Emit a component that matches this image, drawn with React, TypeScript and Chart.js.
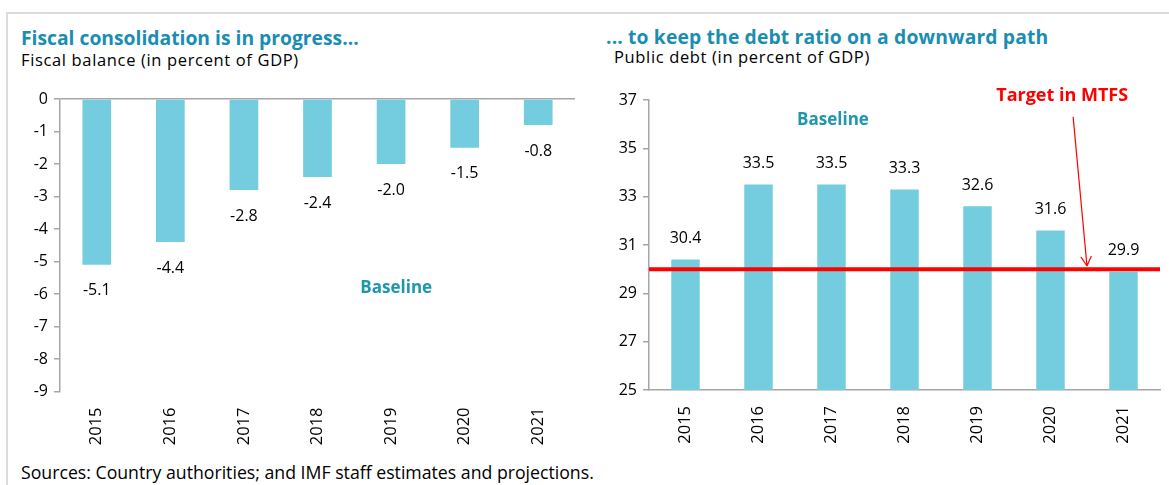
import React, { useEffect, useRef } from "react";
import { Chart, registerables } from "chart.js";

Chart.register(...registerables);

// ---------- data ----------
const years = ["2015", "2016", "2017", "2018", "2019", "2020", "2021"];
const fiscalBalance = [-5.1, -4.4, -2.8, -2.4, -2.0, -1.5, -0.8];
const publicDebt = [30.4, 33.5, 33.5, 33.3, 32.6, 31.6, 29.9];
const fiscalAxis = { min: -9, max: 0, step: 1 };
const debtAxis = { min: 25, max: 37, step: 2 };
const mtfsTarget = 30;
const arrowStart = { x: 5.31, y: 36.3 };
const arrowEnd = { x: 5.5, y: 30.13 };
const targetLabelPos = { x: 5.16, y: 37.17 };
const leftBaselinePos = { x: 4.07, y: -5.82 };
const rightBaselinePos = { x: 2.02, y: 36.17 };

const FONT = "'Open Sans', 'Noto Sans', sans-serif";
const BAR = "#73CDDE";
const TEAL_TITLE = "#1A8DB3";
const TEAL_LABEL = "#1E97AD";
const AXIS_GRAY = "#A6A6A6";

const annotations = {
  id: "annotations",
  afterDatasetsDraw(chart: any, _args: any, opts: any) {
    const ctx = chart.ctx;
    const xs = chart.scales.x;
    const ys = chart.scales.y;
    const meta = chart.getDatasetMeta(0);
    const data = chart.data.datasets[0].data as number[];
    ctx.save();
    if (opts.target !== undefined) {
      const y = ys.getPixelForValue(opts.target);
      ctx.strokeStyle = "#FF0000";
      ctx.lineWidth = 4;
      ctx.beginPath();
      ctx.moveTo(chart.chartArea.left, y);
      ctx.lineTo(chart.chartArea.right, y);
      ctx.stroke();
    }
    ctx.font = `16px ${FONT}`;
    ctx.fillStyle = "#000";
    ctx.textAlign = "center";
    ctx.textBaseline = "middle";
    meta.data.forEach((bar: any, i: number) => {
      const v = data[i];
      const y = v < 0 ? bar.y + opts.offset : bar.y - opts.offset;
      ctx.fillText(v.toFixed(1), bar.x, y);
    });
    if (opts.baseline) {
      ctx.font = `bold 17px ${FONT}`;
      ctx.fillStyle = TEAL_LABEL;
      ctx.fillText(
        "Baseline",
        xs.getPixelForValue(opts.baseline.x),
        ys.getPixelForValue(opts.baseline.y)
      );
    }
    if (opts.arrow) {
      const x1 = xs.getPixelForValue(opts.arrow.from.x);
      const y1 = ys.getPixelForValue(opts.arrow.from.y);
      const x2 = xs.getPixelForValue(opts.arrow.to.x);
      const y2 = ys.getPixelForValue(opts.arrow.to.y);
      ctx.strokeStyle = "#FF0000";
      ctx.lineWidth = 1.2;
      ctx.beginPath();
      ctx.moveTo(x1, y1);
      ctx.lineTo(x2, y2);
      const ang = Math.atan2(y2 - y1, x2 - x1);
      const L = 11;
      ctx.moveTo(x2, y2);
      ctx.lineTo(x2 - L * Math.cos(ang - 0.5), y2 - L * Math.sin(ang - 0.5));
      ctx.moveTo(x2, y2);
      ctx.lineTo(x2 - L * Math.cos(ang + 0.5), y2 - L * Math.sin(ang + 0.5));
      ctx.stroke();
      ctx.font = `bold 18px ${FONT}`;
      ctx.fillStyle = "#FF0000";
      ctx.fillText(
        "Target in MTFS",
        xs.getPixelForValue(opts.label.x),
        ys.getPixelForValue(opts.label.y)
      );
    }
    ctx.restore();
  },
};

function makeConfig(
  values: number[],
  axis: { min: number; max: number; step: number },
  yWidth: number,
  xHeight: number,
  padding: any,
  xBorder: boolean,
  zeroLine: boolean,
  annot: any
): any {
  return {
    type: "bar",
    data: {
      labels: years,
      datasets: [
        {
          data: values,
          backgroundColor: BAR,
          borderWidth: 0,
          barPercentage: 0.39,
          categoryPercentage: 1,
        },
      ],
    },
    plugins: [annotations],
    options: {
      animation: false,
      responsive: false,
      maintainAspectRatio: false,
      layout: { padding },
      plugins: {
        legend: { display: false },
        tooltip: { enabled: false },
        annotations: annot,
      },
      scales: {
        x: {
          afterFit: (s: any) => {
            s.height = xHeight;
          },
          grid: { display: false, drawTicks: false },
          border: { display: xBorder, color: AXIS_GRAY, width: 1.5 },
          ticks: {
            minRotation: 90,
            maxRotation: 90,
            padding: 16,
            color: "#000",
            font: { family: FONT, size: 16.5 },
          },
        },
        y: {
          min: axis.min,
          max: axis.max,
          afterFit: (s: any) => {
            s.width = yWidth;
          },
          ticks: {
            stepSize: axis.step,
            padding: 6,
            color: "#000",
            font: { family: FONT, size: 16 },
          },
          grid: {
            drawOnChartArea: zeroLine,
            color: (c: any) =>
              c.tick && c.tick.value === 0 ? AXIS_GRAY : "rgba(0,0,0,0)",
            lineWidth: 1.5,
            tickColor: AXIS_GRAY,
            tickLength: 6,
          },
          border: { display: true, color: AXIS_GRAY, width: 1.5 },
        },
      },
    },
  };
}

function ChartCanvas(props: { config: any; style: React.CSSProperties; w: number; h: number }) {
  const ref = useRef<HTMLCanvasElement | null>(null);
  useEffect(() => {
    if (!ref.current) return;
    const ch = new Chart(ref.current, props.config);
    return () => ch.destroy();
  }, []);
  return <canvas ref={ref} width={props.w} height={props.h} style={{ position: "absolute", width: props.w, height: props.h, ...props.style }} />;
}

export default function App() {
  const leftCfg = makeConfig(
    fiscalBalance,
    fiscalAxis,
    60,
    58.5,
    { top: 19, right: 15, left: 0, bottom: 0 },
    false,
    true,
    { offset: 26, baseline: leftBaselinePos }
  );
  const rightCfg = makeConfig(
    publicDebt,
    debtAxis,
    59,
    60,
    { top: 20, right: 9, left: 0, bottom: 0 },
    true,
    false,
    {
      offset: 21,
      target: mtfsTarget,
      baseline: rightBaselinePos,
      arrow: { from: arrowStart, to: arrowEnd },
      label: targetLabelPos,
    }
  );
  const title: React.CSSProperties = { position: "absolute", fontSize: 19.3, fontWeight: 700, color: TEAL_TITLE, whiteSpace: "nowrap", lineHeight: "normal" };
  const sub: React.CSSProperties = { position: "absolute", fontSize: 16.5, letterSpacing: 0.65, color: "#000", whiteSpace: "nowrap", lineHeight: "normal" };
  return (
    <div style={{ position: "absolute", left: 0, top: 0, width: 1169, height: 485, background: "#fff", overflow: "hidden", fontFamily: FONT }}>
      <div style={{ position: "absolute", left: 7, top: 12, right: 0, height: 0, borderTop: "2px solid #DCDCDC" }} />
      <div style={{ position: "absolute", left: 6, top: 12, width: 0, bottom: 0, borderLeft: "2px solid #DCDCDC" }} />
      <div style={{ ...title, left: 21, top: 23.5 }}>Fiscal consolidation is in progress...</div>
      <div style={{ ...sub, left: 21, top: 48 }}>Fiscal balance (in percent of GDP)</div>
      <div style={{ ...title, left: 606, top: 22.5, letterSpacing: 0.15 }}>... to keep the debt ratio on a downward path</div>
      <div style={{ ...sub, left: 614, top: 45 }}>Public debt (in percent of GDP)</div>
      <ChartCanvas config={leftCfg} w={590} h={370} style={{ left: 0, top: 80 }} />
      <ChartCanvas config={rightCfg} w={579} h={370} style={{ left: 590, top: 80 }} />
      <div style={{ position: "absolute", left: 21, top: 459.5, fontSize: 17.7, color: "#000", whiteSpace: "nowrap", lineHeight: "normal" }}>
        Sources: Country authorities; and IMF staff estimates and projections.
      </div>
    </div>
  );
}
